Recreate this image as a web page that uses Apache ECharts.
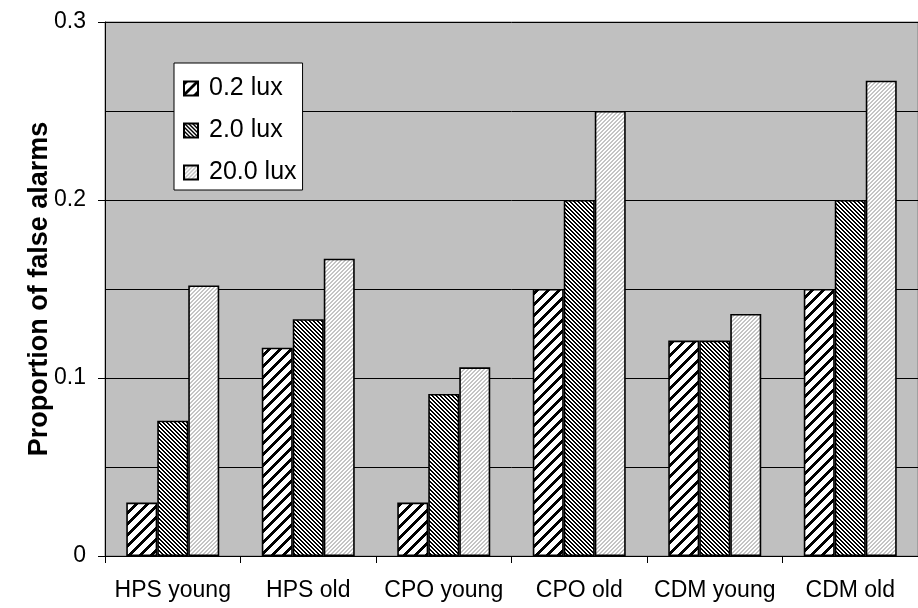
<!DOCTYPE html>
<html>
<head>
<meta charset="utf-8">
<script src="https://cdn.jsdelivr.net/npm/echarts@6/dist/echarts.min.js"></script>
<style>
html,body{margin:0;padding:0;background:#fff;}
#chart{width:918px;height:608px;}
</style>
</head>
<body>
<div id="chart"></div>
<script>
var categories = ['HPS young', 'HPS old', 'CPO young', 'CPO old', 'CDM young', 'CDM old'];
var seriesNames = ['0.2 lux', '2.0 lux', '20.0 lux'];
var lux02 = [0.030, 0.117, 0.030, 0.150, 0.121, 0.150];
var lux20 = [0.076, 0.133, 0.091, 0.200, 0.121, 0.200];
var lux200 = [0.152, 0.167, 0.106, 0.250, 0.136, 0.267];
var yTicks = [0, 0.1, 0.2, 0.3];

function makePattern(P, w, dir, fg, bg) {
  var c = document.createElement('canvas');
  c.width = P; c.height = P;
  var ctx = c.getContext('2d');
  ctx.fillStyle = bg; ctx.fillRect(0, 0, P, P);
  ctx.fillStyle = fg;
  for (var y = 0; y < P; y++) {
    for (var x = 0; x < P; x++) {
      var v = dir === '/' ? (x + y) % P : (((x - y) % P) + P) % P;
      if (v < w) ctx.fillRect(x, y, 1, 1);
    }
  }
  return { image: c, repeat: 'repeat' };
}

var patterns = [
  makePattern(11, 4, '/', '#000000', '#ffffff'),
  makePattern(4, 2, '\\', '#000000', '#ffffff'),
  makePattern(4, 2, '/', '#c4c4c4', '#ffffff')
];
var dataSets = [lux02, lux20, lux200];

var chart = echarts.init(document.getElementById('chart'), null, { renderer: 'canvas' });
var series = seriesNames.map(function (n, i) {
  return {
    name: n,
    type: 'bar',
    data: dataSets[i],
    barWidth: 31,
    barGap: '0%',
    itemStyle: { color: patterns[i], borderColor: '#000', borderWidth: 1.6 },
    emphasis: { disabled: true },
    animation: false
  };
});

chart.setOption({
  animation: false,
  grid: {
    left: 105, top: 22, bottom: 52, right: -9,
    show: true, backgroundColor: '#c0c0c0', borderColor: '#808080', borderWidth: 1
  },
  legend: {
    orient: 'vertical',
    left: 174, top: 63,
    backgroundColor: '#ffffff',
    borderColor: '#000000',
    borderWidth: 1,
    padding: [13, 6, 5, 9],
    itemWidth: 14, itemHeight: 14,
    itemGap: 17,
    icon: 'rect',
    selectedMode: false,
    textStyle: { fontFamily: 'Liberation Sans, Arial, sans-serif', fontSize: 25, color: '#000', lineHeight: 24, padding: [0, 0, 0, 6] },
    data: seriesNames
  },
  xAxis: {
    type: 'category',
    data: categories,
    axisLine: { lineStyle: { color: '#000', width: 1 } },
    axisTick: { show: true, length: 7, lineStyle: { color: '#000' } },
    axisLabel: { fontFamily: 'Liberation Sans, Arial, sans-serif', fontSize: 23, color: '#000', margin: 23, interval: 0 },
    splitLine: { show: false }
  },
  yAxis: {
    type: 'value',
    min: yTicks[0], max: yTicks[yTicks.length - 1], interval: 0.1,
    name: 'Proportion of false alarms',
    nameLocation: 'middle',
    nameGap: 52,
    nameRotate: 90,
    nameMoveOverlap: false,
    nameTextStyle: { fontFamily: 'Liberation Sans, Arial, sans-serif', fontSize: 27, fontWeight: 'bold', color: '#000' },
    axisLine: { show: true, lineStyle: { color: '#000', width: 1 } },
    axisTick: { show: true, length: 7, lineStyle: { color: '#000' } },
    axisLabel: {
      fontFamily: 'Liberation Sans, Arial, sans-serif', fontSize: 23, color: '#000', margin: 19,
      formatter: function (v) { return String(Math.round(v * 10) / 10); }
    },
    splitLine: { show: true, lineStyle: { color: '#000', width: 1 } },
    minorTick: { show: false, splitNumber: 2 },
    minorSplitLine: { show: true, lineStyle: { color: '#000', width: 1 } }
  },
  series: series
});
</script>
</body>
</html>
